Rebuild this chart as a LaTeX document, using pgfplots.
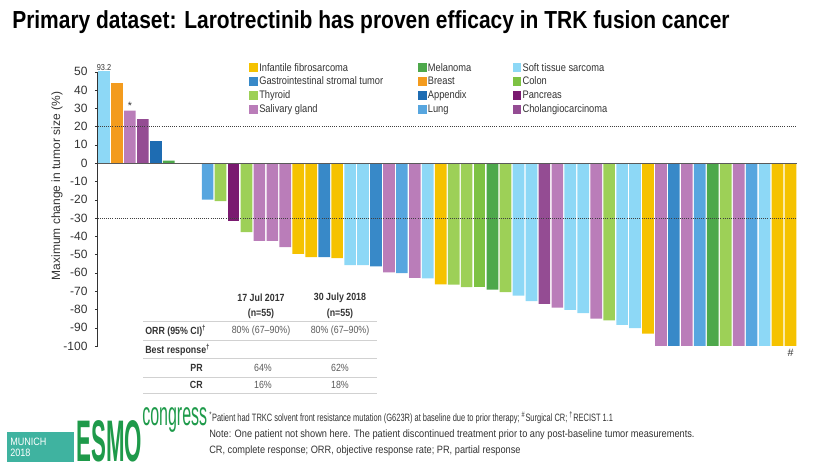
\documentclass[border=0pt]{standalone}
\usepackage{fontspec}
\setmainfont{Liberation Sans}
\newfontfamily\nar[FakeStretch=0.85]{Liberation Sans}
\newfontfamily\foot[FakeStretch=0.865]{Liberation Sans}
\newfontfamily\footn[FakeStretch=0.7]{Liberation Sans}
\newfontfamily\logofont[FakeStretch=0.38]{Liberation Sans}
\newfontfamily\congfont[FakeStretch=0.48]{Liberation Sans}
\usepackage{pgfplots}
\pgfplotsset{compat=1.18}

\definecolor{cInf}{HTML}{F5C200}
\definecolor{cGist}{HTML}{3889C8}
\definecolor{cThy}{HTML}{9DD057}
\definecolor{cSal}{HTML}{BA7DB9}
\definecolor{cMel}{HTML}{4DA84B}
\definecolor{cBre}{HTML}{F39B1E}
\definecolor{cApp}{HTML}{1E6CB2}
\definecolor{cLung}{HTML}{57A6DF}
\definecolor{cSoft}{HTML}{8DD8F6}
\definecolor{cCol}{HTML}{7DC243}
\definecolor{cPan}{HTML}{7A1A70}
\definecolor{cCho}{HTML}{944C93}
\definecolor{txt}{HTML}{333333}
\definecolor{esmoteal}{HTML}{3FB3A0}
\definecolor{esmogreen}{HTML}{1E9A4A}

\pgfplotsset{cat/.style={ybar, bar width=0.9, bar shift=0pt, fill=#1, draw=none}}

\begin{document}
\begin{tikzpicture}
\begin{scope}[x=0.75pt,y=-0.75pt]
\path[use as bounding box] (0,0) rectangle (828,467);
\end{scope}

\begin{axis}[
  at={(73.125pt,-53.775pt)}, anchor=north west,
  scale only axis, width=524.6pt, height=205.7pt,
  xmin=0.5, xmax=54.5, ymin=-100, ymax=50,
  axis x line=none, axis y line*=left,
  y axis line style={draw=txt, line width=0.6pt},
  ytick={-100,-90,...,50},
  tick align=outside, major tick length=2pt,
  ytick style={draw=txt},
  /pgf/number format/assume math mode=true,
  yticklabel style={font=\fontsize{9}{10}\selectfont, text=txt, xshift=-2pt},
  clip mode=individual,
  legend columns=3,
  legend cell align=left,
  legend image code/.code={\fill[#1] (0pt,-3pt) rectangle (6.5pt,3.5pt);},
  legend style={at={(0.2166,1.037)}, anchor=north west, draw=none, fill=none,
    inner sep=0pt, row sep=1pt,
    font=\nar\fontsize{8.2}{9}\selectfont, text=txt,
    nodes={inner sep=1pt},
    /tikz/every even column/.append style={column sep=25pt}},
]
% legend order fills row by row
\addplot[cat=cInf] coordinates {(16,-49.6)(17,-51.4)(19,-52)(27,-66.3)(43,-93.3)(53,-100)(54,-100)};
\addlegendentry{Infantile fibrosarcoma}
\addplot[cat=cMel] coordinates {(6,1.4)(31,-69.2)(48,-100)};
\addlegendentry{Melanoma\hspace*{5pt}}
\addplot[cat=cSoft] coordinates {(1,93.2)(20,-55.8)(21,-55.8)(26,-63)(33,-72.5)(34,-75.5)(37,-80.2)(38,-82)(41,-88.4)(42,-90.2)(52,-100)};
\addlegendentry{Soft tissue sarcoma}
\addplot[cat=cGist] coordinates {(18,-51.4)(22,-56.5)(45,-100)};
\addlegendentry{Gastrointestinal stromal tumor}
\addplot[cat=cBre] coordinates {(2,44)};
\addlegendentry{Breast}
\addplot[cat=cCol] coordinates {(30,-67.8)};
\addlegendentry{Colon}
\addplot[cat=cThy] coordinates {(10,-20.8)(12,-37.7)(28,-66.5)(29,-67.8)(32,-70.5)(40,-86)(49,-100)};
\addlegendentry{Thyroid}
\addplot[cat=cApp] coordinates {(5,12.2)};
\addlegendentry{Appendix}
\addplot[cat=cPan] coordinates {(11,-31.7)};
\addlegendentry{Pancreas}
\addplot[cat=cSal] coordinates {(3,28.7)(13,-42.5)(14,-42.5)(15,-46)(23,-59.8)(25,-62.8)(36,-79)(39,-85.1)(44,-100)(46,-100)(50,-100)};
\addlegendentry{Salivary gland}
\addplot[cat=cLung] coordinates {(9,-20)(24,-60.1)(47,-100)(51,-100)};
\addlegendentry{Lung}
\addplot[cat=cCho] coordinates {(4,24)(35,-77)};
\addlegendentry{Cholangiocarcinoma}

% reference lines
\addplot[forget plot, sharp plot, no markers, draw=black!75, densely dotted, line width=0.6pt] coordinates {(0.5,20)(54.5,20)};
\addplot[forget plot, sharp plot, no markers, draw=black!75, densely dotted, line width=0.6pt] coordinates {(0.5,-30)(54.5,-30)};
\addplot[forget plot, sharp plot, no markers, draw=black!65, line width=0.9pt] coordinates {(0.5,0)(54.5,0)};

\node[anchor=south, font=\nar\fontsize{6.5}{7}\selectfont, text=txt, inner sep=1pt] at (axis cs:1,50) {93.2};
\node[anchor=south, font=\fontsize{8}{8}\selectfont, text=txt, inner sep=1pt] at (axis cs:3,28.7) {*};
\node[anchor=north, font=\fontsize{8}{8}\selectfont, text=txt, inner sep=2pt] at (axis cs:54,-100) {\#};
\end{axis}

\begin{scope}[x=0.75pt,y=-0.75pt]
% title
\node[anchor=west, inner sep=0pt, font=\nar\bfseries\fontsize{18.5}{20}\selectfont, text=black] at (12,22)
  {Primary dataset: Larotrectinib has proven efficacy in TRK fusion cancer};
% y label
\node[rotate=90, font=\fontsize{9}{10}\selectfont, text=txt] at (57,186) {Maximum change in tumor size (\%)};

% response table
\foreach \yy in {321,340,358,377,393} \draw[black!18, line width=0.6pt] (143,\yy) -- (377,\yy);
\begin{scope}[every node/.style={font=\nar\fontsize{7.8}{9}\selectfont, inner sep=0pt}]
\node[font=\nar\bfseries\fontsize{7.8}{9}\selectfont, text=txt] at (261,298) {17 Jul 2017};
\node[font=\nar\bfseries\fontsize{7.8}{9}\selectfont, text=txt] at (261,314) {(n=55)};
\node[font=\nar\bfseries\fontsize{7.8}{9}\selectfont, text=txt] at (340,298) {30 July 2018};
\node[font=\nar\bfseries\fontsize{7.8}{9}\selectfont, text=txt] at (340,314) {(n=55)};
\node[anchor=west, font=\nar\bfseries\fontsize{7.8}{9}\selectfont, text=txt] at (145,331) {ORR (95\% CI)\textsuperscript{†}};
\node[text=black!65] at (261,331) {80\% (67–90\%)};
\node[text=black!65] at (340,331) {80\% (67–90\%)};
\node[anchor=west, font=\nar\bfseries\fontsize{7.8}{9}\selectfont, text=txt] at (145,350) {Best response\textsuperscript{†}};
\node[anchor=east, font=\nar\bfseries\fontsize{7.8}{9}\selectfont, text=txt] at (203,368) {PR};
\node[text=black!65] at (263,368) {64\%};
\node[text=black!65] at (340,368) {62\%};
\node[anchor=east, font=\nar\bfseries\fontsize{7.8}{9}\selectfont, text=txt] at (203,385) {CR};
\node[text=black!65] at (263,385) {16\%};
\node[text=black!65] at (340,385) {18\%};
\end{scope}

% footnotes
\begin{scope}[every node/.style={anchor=west, inner sep=0pt, font=\foot\fontsize{8}{9}\selectfont, text=txt}]
\node[font=\footn\fontsize{8}{9}\selectfont] at (209,418) {\textsuperscript{*}Patient had TRKC solvent front resistance mutation (G623R) at baseline due to prior therapy; \textsuperscript{\#}Surgical CR; \textsuperscript{†}RECIST 1.1};
\node at (209,435) {Note: One patient not shown here. The patient discontinued treatment prior to any post-baseline tumor measurements.};
\node at (209,451) {CR, complete response; ORR, objective response rate; PR, partial response};
\end{scope}

% congress logo
\fill[esmoteal] (7,432) rectangle (74,462);
\node[anchor=west, align=left, inner sep=0pt, text=white, font=\nar\fontsize{8}{8.5}\selectfont] at (10,447) {MUNICH\\2018};
\node[anchor=base west, inner sep=0pt, text=esmogreen, font=\logofont\bfseries\fontsize{44}{44}\selectfont] at (76,461) {ESMO};
\node[anchor=base west, inner sep=0pt, text=esmogreen, font=\congfont\fontsize{25}{25}\selectfont] at (142,425) {congress};
\end{scope}
\end{tikzpicture}
\end{document}
